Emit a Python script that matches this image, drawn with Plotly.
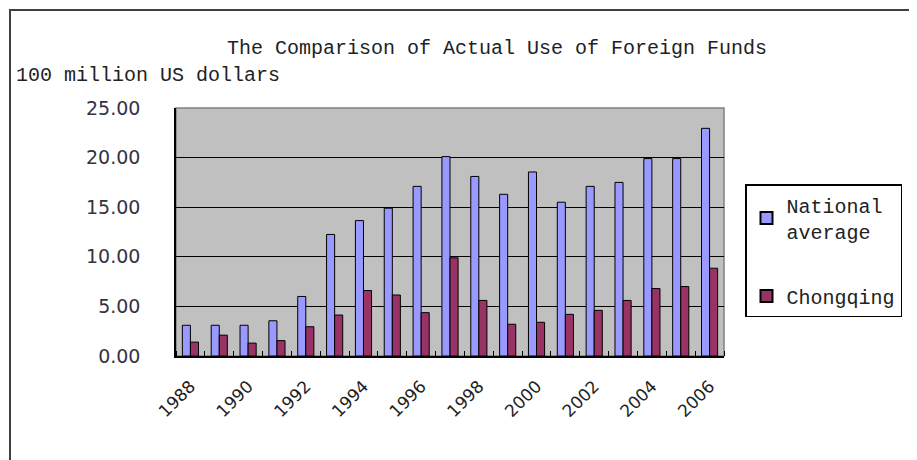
import plotly.graph_objects as go

years = list(range(1988, 2007))
national = [3.1, 3.1, 3.1, 3.55, 6.0, 12.25, 13.65, 14.9, 17.1, 20.1,
            18.1, 16.3, 18.55, 15.5, 17.1, 17.5, 19.9, 19.9, 22.95]
chongqing = [1.4, 2.1, 1.3, 1.55, 2.95, 4.13, 6.6, 6.15, 4.37, 9.9,
             5.6, 3.2, 3.4, 4.2, 4.6, 5.6, 6.8, 7.0, 8.85]
series_names = ["National<br>average", "Chongqing"]
y_ticks = [0, 5, 10, 15, 20, 25]
x_label_years = list(range(1988, 2007, 2))
title_text = "The Comparison of Actual Use of Foreign Funds"
unit_text = "100 million US dollars"

OFF = 8  # page body margin
W, H = 917 - OFF, 460 - OFF
L, R, T, B = 176 - OFF, 724 - OFF, 108 - OFF, 356 - OFF

def px_x(p):
    return (p - OFF - L) / (R - L)

def px_y(p):
    return (B - (p - OFF)) / (B - T)

mono = "Liberation Mono, Courier New, monospace"

fig = go.Figure()
fig.add_trace(go.Bar(x=years, y=national, name=series_names[0],
                     marker=dict(color="#9999FF", line=dict(color="black", width=1)),
                     legendgroup="a"))
fig.add_trace(go.Bar(x=years, y=chongqing, name=series_names[1],
                     marker=dict(color="#993366", line=dict(color="black", width=1)),
                     legendgroup="b"))

fig.update_layout(
    width=W, height=H,
    margin=dict(l=L, r=W - R, t=T, b=H - B, autoexpand=False),
    paper_bgcolor="white",
    plot_bgcolor="#C0C0C0",
    barmode="group",
    bargap=0.44,
    bargroupgap=0,
    showlegend=True,
    legend=dict(
        x=px_x(745), y=px_y(184), xanchor="left", yanchor="top",
        bgcolor="white", bordercolor="black", borderwidth=1.5,
        font=dict(family=mono, size=20, color="#222"),
        tracegroupgap=36, itemsizing="constant",
    ),
    font=dict(family="DejaVu Sans, sans-serif"),
)

fig.update_xaxes(
    range=[1987.5, 2006.5],
    tickmode="array", tickvals=x_label_years, ticktext=[str(v) for v in x_label_years],
    tickangle=-45, ticks="",
    ticklabelstandoff=12,
    tickfont=dict(family="DejaVu Sans, sans-serif", size=17, color="#222"),
    showgrid=False, zeroline=False,
    showline=True, linecolor="black", linewidth=1.5,
    minor=dict(ticks="inside", tick0=1987.5, dtick=1, ticklen=5, tickcolor="black", tickwidth=1, showgrid=False),
)
fig.update_yaxes(
    range=[0, 25],
    tickmode="array", tickvals=y_ticks, ticktext=[f"{v:.2f}" for v in y_ticks],
    tickfont=dict(family="DejaVu Sans, sans-serif", size=19, color="#333344"),
    ticks="", ticklen=0,
    ticklabelstandoff=30,
    showgrid=True, gridcolor="black", gridwidth=1.2,
    zeroline=False,
    showline=True, linecolor="black", linewidth=1.5,
)

# plot area frame (top/right in gray)
fig.add_shape(type="rect", xref="paper", yref="paper", x0=0, x1=1, y0=0, y1=1,
              line=dict(color="#808080", width=1.5), layer="below")
# outer chart border
fig.add_shape(type="rect", xref="paper", yref="paper",
              x0=px_x(10), x1=px_x(960), y0=px_y(500), y1=px_y(10),
              line=dict(color="#404040", width=2))

fig.add_annotation(text=title_text, xref="paper", yref="paper",
                   x=px_x(497), y=px_y(48), showarrow=False,
                   xanchor="center", yanchor="middle",
                   font=dict(family=mono, size=20, color="#222"))
fig.add_annotation(text=unit_text, xref="paper", yref="paper",
                   x=px_x(14), y=px_y(76), showarrow=False,
                   xanchor="left", yanchor="middle",
                   font=dict(family=mono, size=20, color="#222"))

fig.write_html("out.html")
